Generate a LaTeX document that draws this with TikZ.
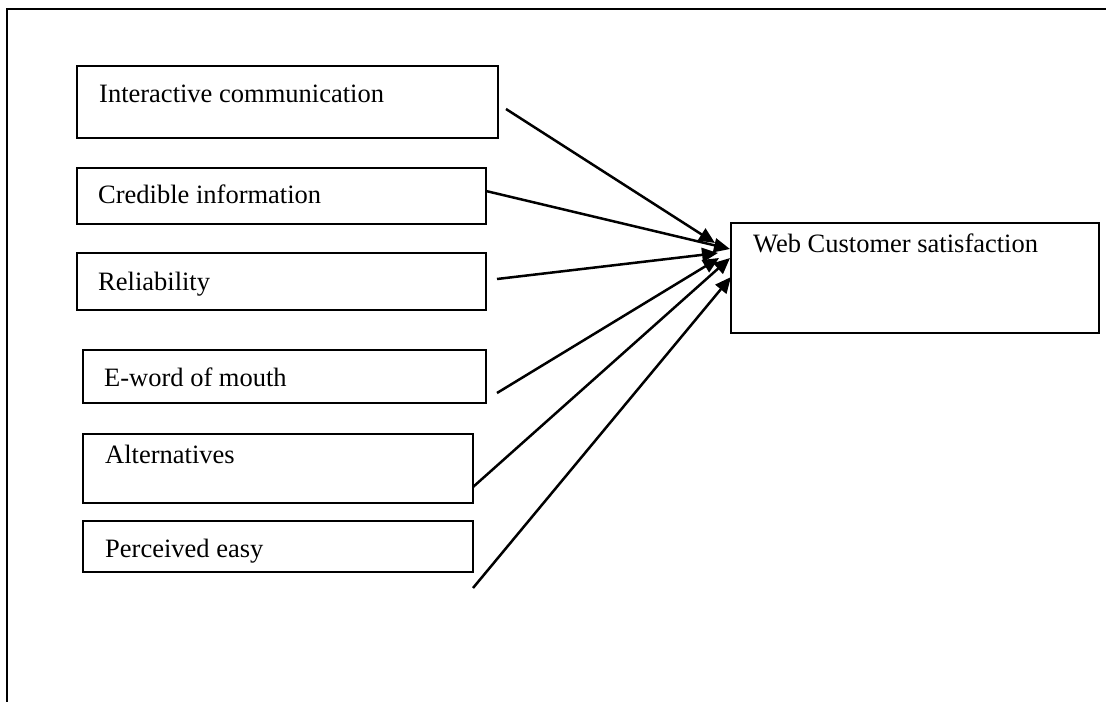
\documentclass[tikz,border=0pt]{standalone}
\usepackage{fontspec}
\setmainfont{Liberation Serif}
\usetikzlibrary{arrows.meta}
\begin{document}
\begin{tikzpicture}[x=1pt,y=-1pt,
  box/.style={draw=black,line width=2.2pt,rectangle,inner sep=0pt},
  txt/.style={anchor=base west,inner sep=0pt,font=\fontsize{26.5}{30}\selectfont},
  link/.style={line width=2.5pt,-{Triangle[length=16pt,width=14pt]}},
  frameline/.style={line width=2.8pt}]
\useasboundingbox (0,0) rectangle (1106,702);

% outer frame (top and left edges only)
\draw[frameline] (1106,9) -- (7,9) -- (7,702);

% factor boxes
\node[box,minimum width=421pt,minimum height=72pt] (ic) at (287.5,102) {};
\node[txt] (icT) at (99,102) {Interactive communication};
\node[box,minimum width=409pt,minimum height=56pt] (ci) at (281.5,196) {};
\node[txt] (ciT) at (98,203) {Credible information};
\node[box,minimum width=409pt,minimum height=57pt] (rel) at (281.5,281.5) {};
\node[txt] (relT) at (98,290) {Reliability};
\node[box,minimum width=403pt,minimum height=53pt] (ew) at (284.5,376.5) {};
\node[txt] (ewT) at (104,386) {E-word of mouth};
\node[box,minimum width=390pt,minimum height=69pt] (alt) at (278,468.5) {};
\node[txt] (altT) at (105,463) {Alternatives};
\node[box,minimum width=390pt,minimum height=51pt] (pe) at (278,546.5) {};
\node[txt] (peT) at (105,557) {Perceived easy};

% outcome box
\node[box,minimum width=368pt,minimum height=110pt] (web) at (915,278) {};
\node[txt] (webT) at (753,252) {Web Customer satisfaction};

% arrow end points
\coordinate (s1) at (506,109);  \coordinate (t1) at (715,243);
\coordinate (s2) at (486,191);  \coordinate (t2) at (730,249);
\coordinate (s3) at (497,279);  \coordinate (t3) at (718,253);
\coordinate (s4) at (497,393);  \coordinate (t4) at (719,258);
\coordinate (s5) at (473,487);  \coordinate (t5) at (730,258);
\coordinate (s6) at (473,588);  \coordinate (t6) at (731,277);

\draw[link] (s1) -- (t1);
\draw[link] (s2) -- (t2);
\draw[link] (s3) -- (t3);
\draw[link] (s4) -- (t4);
\draw[link] (s5) -- (t5);
\draw[link] (s6) -- (t6);
\end{tikzpicture}
\end{document}
